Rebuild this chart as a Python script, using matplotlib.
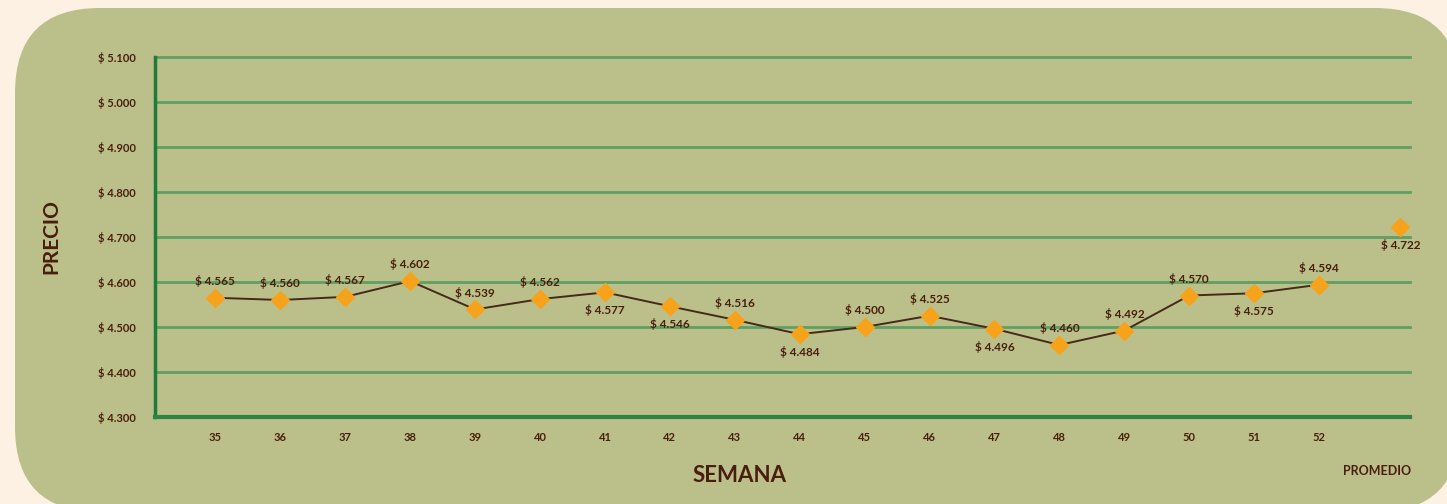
import numpy as np
import matplotlib
matplotlib.use("Agg")
import matplotlib.pyplot as plt
from matplotlib.patches import FancyBboxPatch
from matplotlib.ticker import FuncFormatter

# weekly prices (data labels as printed on the chart)
semanas = ["35", "36", "37", "38", "39", "40", "41", "42", "43",
           "44", "45", "46", "47", "48", "49", "50", "51", "52"]
precios = [4565, 4560, 4567, 4602, 4539, 4562, 4577, 4546, 4516,
           4484, 4500, 4525, 4496, 4460, 4492, 4570, 4575, 4594]
# label above (1) or below (-1) the point
lado = [1, 1, 1, 1, 1, 1, -1, -1, 1, -1, 1, 1, -1, 1, 1, 1, -1, 1]
promedio = 4722
y_ticks = [4300, 4400, 4500, 4600, 4700, 4800, 4900, 5000, 5100]

brown = "#4a1e0e"
green_dark = "#1f7a3c"
green_grid = "#5f9f62"
orange = "#f7a21b"

plt.rcParams['font.family'] = ['Lato', 'DejaVu Sans']

def pesos(v):
    s = f"{int(v):,}".replace(",", ".")
    return "$ " + s

W, H = 1447, 504
fig = plt.figure(figsize=(W / 100, H / 100), dpi=100)
fig.patch.set_facecolor("#fdf1e4")

# rounded panel behind the chart, in pixel units
bg = fig.add_axes([0, 0, 1, 1], zorder=-1)
bg.set_xlim(0, W)
bg.set_ylim(H, 0)
bg.axis("off")
bg.add_patch(FancyBboxPatch((15, 8), 1445, 504,
                            boxstyle="round,pad=0,rounding_size=85",
                            facecolor="#bbc08a", edgecolor="none"))

ax = fig.add_axes([155 / W, 1 - 417 / H, (1410 - 155) / W, (417 - 57) / H], zorder=1)
ax.set_facecolor("none")

x = np.arange(len(semanas))
x_prom = len(semanas) + 0.25

ax.plot(x, precios, color="#45291a", lw=1.4, zorder=3)
ax.plot(x, precios, ls="none", marker="D", ms=9.5, color=orange, zorder=4)
ax.plot([x_prom], [promedio], ls="none", marker="D", ms=9.5, color=orange, zorder=4)

for xi, v, s in zip(x, precios, lado):
    off = 12 if s > 0 else -13
    ax.annotate(pesos(v), (xi, v), xytext=(0, off), textcoords="offset points",
                ha="center", va="center", fontsize=8.5, fontweight="bold",
                color=brown)
ax.annotate(pesos(promedio), (x_prom, promedio), xytext=(0, -13),
            textcoords="offset points", ha="center", va="center",
            fontsize=8.5, fontweight="bold", color=brown)

ax.set_ylim(4300, 5100)
ax.set_xlim(-0.93, 18.4)
ax.set_yticks(y_ticks)
ax.yaxis.set_major_formatter(FuncFormatter(lambda v, p: pesos(v)))
ax.set_xticks(x)
ax.set_xticklabels(semanas)
ax.tick_params(axis="both", length=0, labelsize=8, labelcolor=brown)
ax.tick_params(axis="y", pad=14)
ax.tick_params(axis="x", pad=11)
for lab in ax.get_xticklabels() + ax.get_yticklabels():
    lab.set_fontweight("bold")

ax.grid(axis="y", color=green_grid, lw=2, zorder=1)
for gl in ax.get_ygridlines():
    gl.set_clip_on(False)
ax.set_axisbelow(True)
for sp in ["top", "right"]:
    ax.spines[sp].set_visible(False)
ax.spines["left"].set_color(green_dark)
ax.spines["left"].set_linewidth(2.5)
ax.spines["bottom"].set_color("#2e8445")
ax.spines["bottom"].set_linewidth(3)

ax.text(x_prom - 0.35, -0.15, "PROMEDIO", transform=ax.get_xaxis_transform(),
        ha="center", va="center", fontsize=9, fontweight="bold", color=brown)

ax.set_xlabel("SEMANA", fontsize=16, fontweight="bold", color=brown, labelpad=16)
ax.xaxis.label.set_x(0.466)
ax.set_ylabel("PRECIO", fontsize=15, fontweight="bold", color=brown, labelpad=26)

fig.savefig("out.png", dpi=100, facecolor=fig.get_facecolor())
